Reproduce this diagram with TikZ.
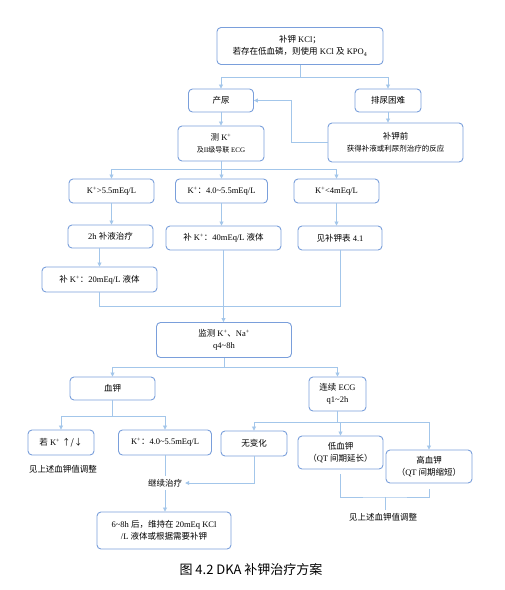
\documentclass[tikz,border=0pt]{standalone}
\usepackage{fontspec}
\setmainfont{Liberation Serif}
\newfontfamily\zhfont{Noto Sans CJK SC}
\newcommand{\zh}[1]{{\zhfont #1}}
\usepackage{tikz}
\usetikzlibrary{arrows.meta,positioning}
\definecolor{DkaBox}{HTML}{7A9FDB}
\definecolor{DkaLine}{HTML}{A3C6EA}

\begin{document}
\begin{tikzpicture}[x=1pt,y=-1pt,
  flow/.style={draw=DkaBox, fill=white, rounded corners=4pt, line width=0.9pt,
    align=center, inner sep=1pt, font=\fontsize{8.5}{12}\selectfont},
  note/.style={align=center, inner sep=3pt, font=\fontsize{8.5}{12}\selectfont},
  conn/.style={draw=DkaLine, line width=0.8pt},
  arr/.style={conn, -{Triangle[length=4pt,width=4pt]}}]
  \useasboundingbox[fill=white] (0,0) rectangle (505,590);
  % top of the plan
  \node[flow, minimum width=166pt, minimum height=37pt] (kcl) at (300,46)
    {\zh{补钾} KCl\zh{；}\\\zh{若存在低血磷，则使用} KCl \zh{及} KPO\textsubscript{4}};
  \node[flow, minimum width=65pt, minimum height=23pt] (chanliao) at (221,100.5) {\zh{产尿}};
  \node[flow, minimum width=66pt, minimum height=23pt] (painiao) at (388,100.5) {\zh{排尿困难}};
  \node[flow, minimum width=86pt, minimum height=35pt] (ceK) at (221,143.5)
    {\zh{测} K\textsuperscript{+}\\{\fontsize{7}{10}\selectfont\zh{及}II\zh{级导联} ECG}};
  \node[flow, minimum width=135pt, minimum height=39pt] (buqian) at (395.5,142.5)
    {\zh{补钾前}\\{\fontsize{7.5}{11}\selectfont\zh{获得补液或利尿剂治疗的反应}}};
  % three potassium levels
  \node[flow, minimum width=85pt, minimum height=24pt] (hi) at (111.5,191) {K\textsuperscript{+}>5.5mEq/L};
  \node[flow, minimum width=92pt, minimum height=24pt] (mid) at (221.5,191)
    {K\textsuperscript{+}\zh{：}4.0\textasciitilde5.5mEq/L};
  \node[flow, minimum width=85pt, minimum height=24pt] (lo) at (336.5,191) {K\textsuperscript{+}<4mEq/L};
  \node[flow, minimum width=85pt, minimum height=23pt] (buye) at (110.5,236.5) {2h \zh{补液治疗}};
  \node[flow, minimum width=115pt, minimum height=24pt] (bu40) at (223.5,238)
    {\zh{补} K\textsuperscript{+}\zh{：}40mEq/L \zh{液体}};
  \node[flow, minimum width=84pt, minimum height=24pt] (table) at (340,238) {\zh{见补钾表} 4.1};
  \node[flow, minimum width=115pt, minimum height=25pt] (bu20) at (99.5,279.5)
    {\zh{补} K\textsuperscript{+}\zh{：}20mEq/L \zh{液体}};
  % monitoring
  \node[flow, minimum width=135pt, minimum height=35pt] (monitor) at (224,340)
    {\zh{监测} K\textsuperscript{+}\zh{、}Na\textsuperscript{+}\\q4\textasciitilde8h};
  \node[flow, minimum width=85pt, minimum height=23pt] (xuejia) at (112.5,388.5) {\zh{血钾}};
  \node[flow, minimum width=57pt, minimum height=34pt] (ecg) at (337.5,394) {\zh{连续} ECG\\q1\textasciitilde2h};
  \node[flow, minimum width=66pt, minimum height=25pt] (ruo) at (61,442.5) {\zh{若} K\textsuperscript{+} \zh{↑/↓}};
  \node[flow, minimum width=93pt, minimum height=25pt] (mid2) at (165,442.5)
    {K\textsuperscript{+}\zh{：}4.0\textasciitilde5.5mEq/L};
  \node[flow, minimum width=66pt, minimum height=25pt] (wubian) at (254,443.5) {\zh{无变化}};
  \node[flow, minimum width=85pt, minimum height=33pt] (low) at (340.5,452.5)
    {\zh{低血钾}\\\zh{（}QT \zh{间期延长）}};
  \node[flow, minimum width=86pt, minimum height=33pt] (high) at (429,466.5)
    {\zh{高血钾}\\\zh{（}QT \zh{间期缩短）}};
  \node[note] (note1) at (63,469) {\zh{见上述血钾值调整}};
  \node[note] (jixu) at (165,483) {\zh{继续治疗}};
  \node[flow, minimum width=134pt, minimum height=37pt] (final) at (164,530.5)
    {6\textasciitilde8h \zh{后，维持在} 20mEq KCl\\/L \zh{液体或根据需要补钾}};
  \node[note] (note2) at (383,517) {\zh{见上述血钾值调整}};
  \node[font=\fontsize{13}{15}\selectfont] (caption) at (251,570) {\zh{图 4.2 DKA 补钾治疗方案}};

  % connectors
  \coordinate (s1) at (300,77);
  \draw[conn] (kcl) -- (s1);
  \draw[arr] (s1) -| (chanliao);
  \draw[arr] (s1) -| (painiao);
  \draw[arr] (chanliao) -- (ceK);
  \draw[arr] (painiao.south) -- (painiao.south |- buqian.north);
  \draw[arr] (buqian.west) -- ++(-36,0) |- (chanliao.east);
  \coordinate (s2) at (221,169);
  \draw[conn] (ceK) -- (s2);
  \draw[arr] (s2) -| (hi);
  \draw[arr] (s2) -| (mid);
  \draw[arr] (s2) -| (lo);
  \draw[arr] (hi.south) -- (hi.south |- buye.north);
  \draw[arr] (mid.south) -- (mid.south |- bu40.north);
  \draw[arr] (lo.south) -- (lo.south |- table.north);
  \draw[arr] (buye.south -| bu20.north) -- (bu20.north);
  \coordinate (s3) at (224,306);
  \draw[conn] (bu20.south) |- (s3);
  \draw[conn] (table.south) |- (s3);
  \draw[arr] (bu40.south) -- (bu40.south |- monitor.north);
  \coordinate (s4) at (224,367);
  \draw[conn] (monitor) -- (s4);
  \draw[arr] (s4) -| (xuejia);
  \draw[arr] (s4) -| (ecg);
  \coordinate (s5) at (112.5,416);
  \draw[conn] (xuejia) -- (s5);
  \draw[arr] (s5) -| (ruo);
  \draw[arr] (s5) -| (mid2);
  \coordinate (s6) at (337.5,422);
  \draw[conn] (ecg) -- (s6);
  \draw[arr] (s6) -| (wubian);
  \draw[arr] (s6) -| (low);
  \draw[arr] (s6) -| (high);
  \draw[conn] (mid2.south) -- (mid2.south |- jixu.north);
  \draw[arr] (wubian.south) |- (jixu.east);
  \draw[arr] (jixu.south) -- (jixu.south |- final.north);
  \coordinate (bk) at (385,497);
  \draw[conn] ([yshift=-5pt]low.south) |- (bk) -| ([yshift=-6pt]high.south);
  \draw[conn] (bk) -- (bk |- note2.north);
\end{tikzpicture}
\end{document}
